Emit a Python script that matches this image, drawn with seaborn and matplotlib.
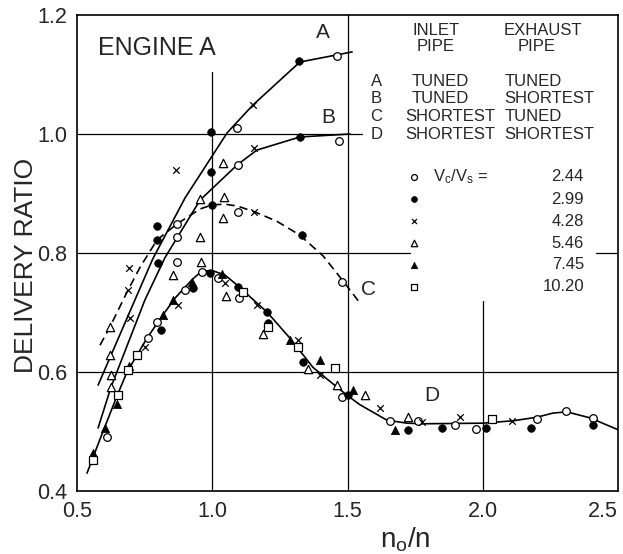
import numpy as np
import pandas as pd
import matplotlib
matplotlib.use("Agg")
import matplotlib.pyplot as plt
import seaborn as sns

# fitted curves (n0/n, delivery ratio)
curve_a_x = [0.578, 0.714, 0.78, 0.90, 1.055, 1.151, 1.324, 1.461, 1.517]
curve_a_y = [0.578, 0.721, 0.79, 0.893, 1.002, 1.049, 1.121, 1.133, 1.138]
curve_b_x = [0.578, 0.626, 0.751, 0.825, 0.955, 1.092, 1.165, 1.324, 1.509]
curve_b_y = [0.506, 0.575, 0.721, 0.792, 0.889, 0.948, 0.973, 0.995, 1.000]
curve_c_x = [0.585, 0.622, 0.689, 0.733, 0.796, 0.870, 0.955, 1.000, 1.047, 1.092,
             1.158, 1.240, 1.324, 1.410, 1.480, 1.546]
curve_c_y = [0.645, 0.676, 0.738, 0.776, 0.822, 0.849, 0.874, 0.881, 0.882, 0.879,
             0.869, 0.853, 0.830, 0.795, 0.755, 0.716]
curve_d_x = [0.537, 0.585, 0.648, 0.685, 0.759, 0.818, 0.862, 0.925, 0.962, 1.003,
             1.047, 1.092, 1.165, 1.202, 1.287, 1.372, 1.398, 1.498, 1.546, 1.646,
             1.720, 1.779, 2.001, 2.112, 2.200, 2.260, 2.311, 2.396, 2.500]
curve_d_y = [0.430, 0.487, 0.560, 0.600, 0.657, 0.696, 0.724, 0.755, 0.770, 0.770,
             0.763, 0.746, 0.716, 0.701, 0.657, 0.608, 0.598, 0.561, 0.545, 0.519,
             0.514, 0.513, 0.514, 0.518, 0.524, 0.531, 0.533, 0.523, 0.503]

# test points, one pair of lists per Vc/Vs
pts_244_x = [1.461, 1.092, 1.469, 1.095, 1.095, 0.870, 0.870, 0.870, 0.962, 1.480,
             1.021, 0.899, 0.796, 0.762, 1.099, 1.480, 1.657, 1.761, 1.897, 1.975,
             2.200, 2.308, 2.408, 0.611]
pts_244_y = [1.131, 1.010, 0.988, 0.948, 0.869, 0.849, 0.827, 0.785, 0.768, 0.751,
             0.758, 0.738, 0.684, 0.657, 0.724, 0.558, 0.518, 0.518, 0.511, 0.504,
             0.521, 0.534, 0.523, 0.491]
pts_299_x = [1.321, 0.995, 1.324, 0.995, 0.999, 1.332, 0.796, 0.796, 0.799, 0.929,
             0.811, 0.992, 1.095, 1.202, 1.206, 1.335, 1.502, 1.724, 1.849, 2.012,
             2.178, 2.408]
pts_299_y = [1.123, 1.003, 0.995, 0.936, 0.881, 0.830, 0.845, 0.822, 0.783, 0.741,
             0.671, 0.766, 0.743, 0.701, 0.682, 0.617, 0.561, 0.503, 0.506, 0.506,
             0.506, 0.511]
pts_428_x = [1.151, 1.154, 0.866, 1.154, 0.692, 0.689, 0.696, 0.873, 0.751, 1.047,
             1.165, 1.317, 1.398, 1.620, 1.916, 2.108, 1.775]
pts_428_y = [1.049, 0.976, 0.939, 0.869, 0.775, 0.738, 0.691, 0.713, 0.642, 0.750,
             0.713, 0.654, 0.595, 0.539, 0.524, 0.518, 0.516]
pts_546_x = [1.040, 1.043, 0.955, 1.040, 0.955, 0.958, 0.855, 0.622, 0.622, 0.626,
             0.626, 1.051, 1.188, 1.354, 1.461, 1.565, 1.724]
pts_546_y = [0.951, 0.894, 0.891, 0.859, 0.827, 0.785, 0.763, 0.676, 0.629, 0.595,
             0.575, 0.728, 0.664, 0.605, 0.578, 0.561, 0.524]
pts_745_x = [0.559, 0.604, 0.648, 0.692, 0.818, 0.855, 0.925, 1.036, 1.287, 1.398,
             1.520, 1.676]
pts_745_y = [0.464, 0.506, 0.546, 0.610, 0.696, 0.721, 0.751, 0.765, 0.654, 0.620,
             0.570, 0.503]
pts_1020_x = [0.559, 0.652, 0.689, 0.722, 1.114, 1.206, 1.317, 1.454, 2.034]
pts_1020_y = [0.452, 0.561, 0.603, 0.629, 0.734, 0.676, 0.642, 0.607, 0.521]

ratio_labels = ["2.44", "2.99", "4.28", "5.46", "7.45", "10.20"]
curve_names = ["A", "B", "C", "D"]
inlet_pipe = ["TUNED", "TUNED", "SHORTEST", "SHORTEST"]
exhaust_pipe = ["TUNED", "SHORTEST", "TUNED", "SHORTEST"]

sns.set_style("white")
plt.rcParams["font.family"] = ["Liberation Sans", "DejaVu Sans"]
plt.rcParams["mathtext.fontset"] = "custom"
plt.rcParams["mathtext.rm"] = "Liberation Sans"
plt.rcParams["mathtext.it"] = "Liberation Sans"

fig = plt.figure(figsize=(6.23, 5.54), dpi=100)
ax = fig.add_axes([77 / 623, 63 / 554, 541 / 623, 476 / 554])
ax.set_xlim(0.5, 2.5)
ax.set_ylim(0.4, 1.2)

# partial grid lines as in the original drawing
grid_kw = dict(color="black", lw=0.9, zorder=1)
ax.axhline(1.0, xmax=0.527, **grid_kw)
ax.axhline(0.8, xmax=0.616, **grid_kw)
ax.axhline(0.8, xmin=0.959, **grid_kw)
ax.axhline(0.6, **grid_kw)
ax.axvline(1.0, ymax=0.88, **grid_kw)
ax.axvline(1.5, **grid_kw)
ax.axvline(2.0, ymax=0.40, **grid_kw)

line_kw = dict(color="black", lw=1.2, estimator=None, sort=False, ax=ax, zorder=2)
sns.lineplot(x=curve_a_x, y=curve_a_y, **line_kw)
sns.lineplot(x=curve_b_x, y=curve_b_y, **line_kw)
sns.lineplot(x=curve_c_x, y=curve_c_y, linestyle=(0, (5, 3)), **line_kw)
sns.lineplot(x=curve_d_x, y=curve_d_y, **line_kw)

marker_styles = [
    dict(marker="o", s=30, facecolor="white", edgecolor="black", linewidth=0.9),
    dict(marker="o", s=30, color="black", edgecolor="black", linewidth=0.5),
    dict(marker="x", s=22, color="black", linewidth=0.9),
    dict(marker="^", s=36, facecolor="white", edgecolor="black", linewidth=0.9),
    dict(marker="^", s=36, color="black", edgecolor="black", linewidth=0.5),
    dict(marker="s", s=26, facecolor="white", edgecolor="black", linewidth=0.9),
]
series = [(pts_244_x, pts_244_y), (pts_299_x, pts_299_y), (pts_428_x, pts_428_y),
          (pts_546_x, pts_546_y), (pts_745_x, pts_745_y), (pts_1020_x, pts_1020_y)]
for (xs, ys), st in zip(series, marker_styles):
    sns.scatterplot(x=xs, y=ys, ax=ax, zorder=3, legend=False, **st)

# curve letters
ax.text(1.409, 1.170, "A", fontsize=15, ha="center", va="center")
ax.text(1.428, 1.027, "B", fontsize=15, ha="center", va="center")
ax.text(1.576, 0.738, "C", fontsize=15, ha="center", va="center")
ax.text(1.812, 0.561, "D", fontsize=15, ha="center", va="center")

ax.text(0.039, 0.931, "ENGINE A", transform=ax.transAxes, fontsize=18,
        ha="left", va="center")

# key table
tk = dict(transform=ax.transAxes, fontsize=12, va="center")
ax.text(0.664, 0.968, "INLET", ha="center", **tk)
ax.text(0.662, 0.933, "PIPE", ha="center", **tk)
ax.text(0.861, 0.968, "EXHAUST", ha="center", **tk)
ax.text(0.850, 0.933, "PIPE", ha="center", **tk)
row_y = [0.861, 0.824, 0.786, 0.748]
for name, inl, exh, yy in zip(curve_names, inlet_pipe, exhaust_pipe, row_y):
    ax.text(0.553, yy, name, ha="center", **tk)
    ax.text(0.606 if inl == "SHORTEST" else 0.618, yy, inl, ha="left", **tk)
    ax.text(0.790, yy, exh, ha="left", **tk)

key_y = [0.660, 0.613, 0.567, 0.521, 0.475, 0.429]
for lab, st, yy in zip(ratio_labels, marker_styles, key_y):
    st = dict(st)
    st["s"] = st["s"] * 0.6
    ax.scatter([0.623], [yy], transform=ax.transAxes, zorder=3, **st)
    ax.text(0.937, yy, lab, ha="right", **tk)
ax.text(0.658, key_y[0], "V$_{\\rm c}$/V$_{\\rm s}$ =", ha="left", **tk)

ax.set_xticks([0.5, 1.0, 1.5, 2.0, 2.5])
ax.set_xticklabels(["0.5", "1.0", "1.5", "2.0", "2.5"])
ax.set_yticks([0.4, 0.6, 0.8, 1.0, 1.2])
ax.set_yticklabels(["0.4", "0.6", "0.8", "1.0", "1.2"])
ax.tick_params(axis="both", length=0, labelsize=15.5)
ax.tick_params(axis="x", pad=7)
ax.tick_params(axis="y", pad=7)
ax.get_xticklabels()[-1].set_horizontalalignment("right")
for sp in ax.spines.values():
    sp.set_visible(True)
    sp.set_color("black")
    sp.set_linewidth(1.2)

ax.set_ylabel("DELIVERY RATIO", fontsize=19, va="center")
ax.yaxis.set_label_coords(-0.095, 0.473)
ax.set_xlabel("n$_{\\rm o}$/n", fontsize=20, va="center")
ax.xaxis.set_label_coords(0.606, -0.103)

fig.savefig("out.png", dpi=100)
